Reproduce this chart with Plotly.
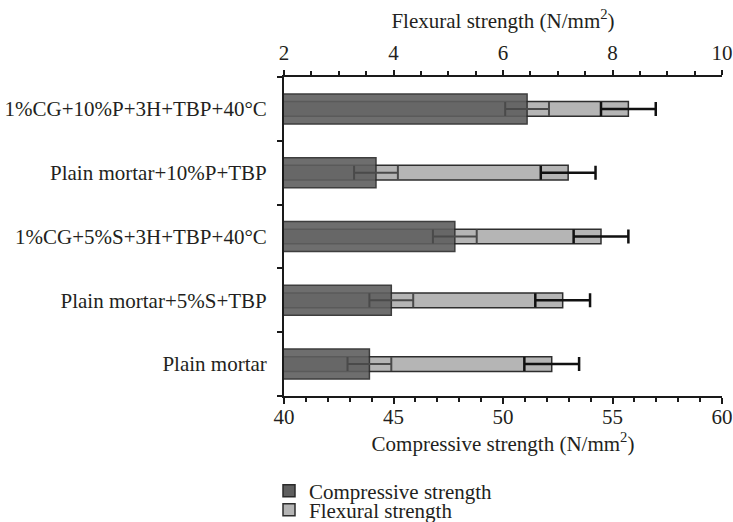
import plotly.graph_objects as go

categories = ["Plain mortar", "Plain mortar+5%S+TBP", "1%CG+5%S+3H+TBP+40°C",
              "Plain mortar+10%P+TBP", "1%CG+10%P+3H+TBP+40°C"]
compressive = [43.9, 44.9, 47.8, 44.2, 51.1]
compressive_err = [1.0, 1.0, 1.0, 1.0, 1.0]
flexural = [6.89, 7.09, 7.79, 7.19, 8.29]
flexural_err = [0.5, 0.5, 0.5, 0.5, 0.5]

FONT = "Liberation Serif"
FS = 21
TXT = "#231f20"
W, H = 733, 522

fig = go.Figure()

# Flexural bars (base x axis, drawn underneath)
fig.add_trace(go.Bar(
    y=categories, x=flexural, orientation="h", name="Flexural strength",
    xaxis="x", yaxis="y", width=0.23, legend="legend2",
    marker=dict(color="#b5b5b5", line=dict(color="#2e2e2e", width=1.5)),
    error_x=dict(type="data", array=flexural_err, color="#111111", thickness=2.5, width=7),
))

# Compressive bars (overlaying axis, drawn on top)
fig.add_trace(go.Bar(
    y=categories, x=compressive, orientation="h", name="Compressive strength",
    xaxis="x2", yaxis="y", width=0.47, legend="legend",
    marker=dict(color="#5f5f5f", opacity=0.9, line=dict(color="#2a2a2a", width=1.5)),
    error_x=dict(type="data", array=compressive_err, color="#4a4a4a", thickness=2, width=7),
))

legend_common = dict(xref="container", yref="container", xanchor="left", yanchor="middle",
                     font=dict(size=FS, family=FONT, color=TXT), itemwidth=30,
                     bgcolor="rgba(0,0,0,0)", borderwidth=0)

fig.update_layout(
    width=W, height=H,
    margin=dict(l=284, r=11, t=77, b=126, autoexpand=False),
    paper_bgcolor="white", plot_bgcolor="white",
    barmode="overlay",
    font=dict(family=FONT, size=FS, color=TXT),
    showlegend=True,
    legend=dict(x=269 / W, y=1 - 491 / H, **legend_common),
    legend2=dict(x=269 / W, y=1 - 510 / H, **legend_common),
    xaxis=dict(
        side="top", range=[2, 10], dtick=2, tick0=2, automargin=False,
        ticks="outside", ticklen=5, tickwidth=2, tickcolor="#1a1a1a",
        minor=dict(dtick=0.5, ticks="outside", ticklen=4, tickwidth=2, tickcolor="#1a1a1a"),
        showline=True, linecolor="#1a1a1a", linewidth=2, showgrid=False, zeroline=False,
        ticklabelstandoff=2,
        title=dict(text="Flexural strength (N/mm<sup>2</sup>)", standoff=6,
                   font=dict(size=FS, family=FONT, color=TXT)),
        tickfont=dict(size=FS, family=FONT, color=TXT),
    ),
    xaxis2=dict(
        overlaying="x", side="bottom", range=[40, 60], dtick=5, tick0=40, automargin=False,
        ticks="outside", ticklen=6, tickwidth=2, tickcolor="#1a1a1a",
        minor=dict(dtick=1, ticks="outside", ticklen=4, tickwidth=2, tickcolor="#1a1a1a"),
        showline=True, linecolor="#1a1a1a", linewidth=2, showgrid=False, zeroline=False,
        ticklabelstandoff=-5,
        title=dict(text="Compressive strength (N/mm<sup>2</sup>)", standoff=0,
                   font=dict(size=FS, family=FONT, color=TXT)),
        tickfont=dict(size=FS, family=FONT, color=TXT),
    ),
    yaxis=dict(
        type="category", categoryorder="array", categoryarray=categories, automargin=False,
        tickson="boundaries", ticks="outside", ticklen=5, tickwidth=2, tickcolor="#1a1a1a",
        showline=True, linecolor="#1a1a1a", linewidth=2, showgrid=False,
        ticklabelstandoff=11,
        tickfont=dict(size=FS, family=FONT, color=TXT),
    ),
)

fig.write_html("out.html", config={"displayModeBar": False},
               post_script="document.body.style.margin='0px';")
